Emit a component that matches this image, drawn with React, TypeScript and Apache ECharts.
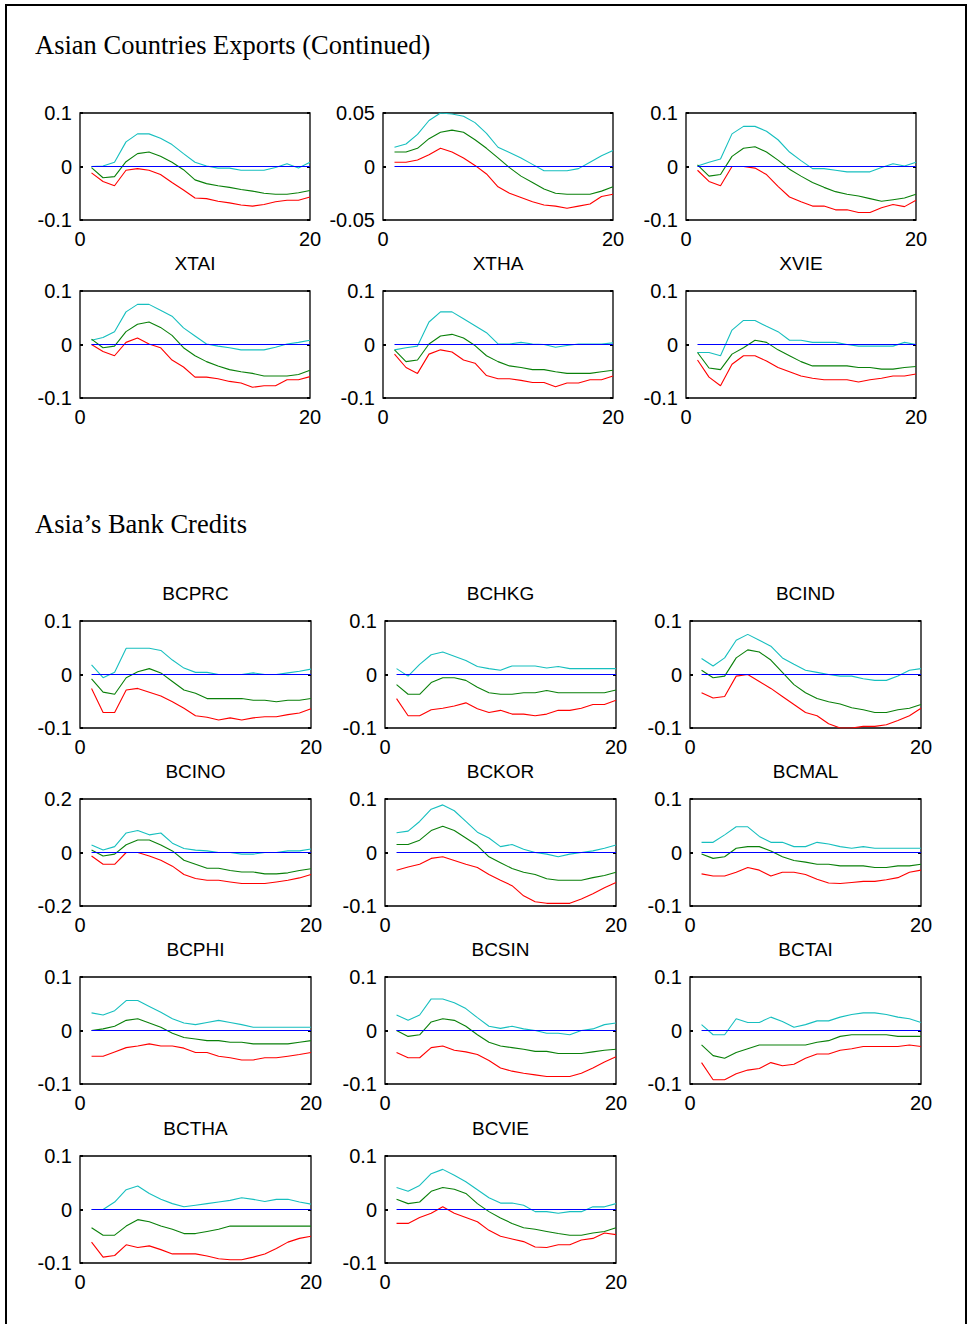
import React, { useEffect, useRef } from 'react';
import * as echarts from 'echarts';

// Forecast horizon (periods 1..20) shared by every panel
const PERIODS = [1, 2, 3, 4, 5, 6, 7, 8, 9, 10, 11, 12, 13, 14, 15, 16, 17, 18, 19, 20];
const X_TICKS = [0, 20];

// ---- Asian countries exports (continued) ----
const EXA_UP = [0, 0.001, 0.008, 0.046, 0.061, 0.061, 0.053, 0.041, 0.024, 0.008, 0.001, -0.003, -0.003, -0.007, -0.007, -0.007, -0.002, 0.005, -0.003, 0.008];
const EXA_MID = [-0.002, -0.021, -0.019, 0.009, 0.024, 0.027, 0.019, 0.008, -0.006, -0.025, -0.032, -0.036, -0.039, -0.043, -0.046, -0.05, -0.052, -0.052, -0.049, -0.045];
const EXA_LO = [-0.012, -0.028, -0.036, -0.007, -0.004, -0.007, -0.015, -0.03, -0.044, -0.059, -0.06, -0.065, -0.068, -0.072, -0.074, -0.071, -0.066, -0.063, -0.063, -0.057];

const EXB_UP = [0.018, 0.021, 0.03, 0.043, 0.05, 0.049, 0.047, 0.041, 0.031, 0.018, 0.013, 0.008, 0.002, -0.004, -0.004, -0.004, -0.002, 0.004, 0.01, 0.015];
const EXB_MID = [0.0135, 0.0135, 0.017, 0.026, 0.032, 0.034, 0.032, 0.025, 0.017, 0.008, -0.001, -0.009, -0.015, -0.021, -0.025, -0.026, -0.026, -0.026, -0.023, -0.019];
const EXB_LO = [0.004, 0.004, 0.006, 0.011, 0.017, 0.0135, 0.008, 0.001, -0.007, -0.019, -0.025, -0.029, -0.033, -0.036, -0.037, -0.039, -0.037, -0.035, -0.028, -0.026];

const EXC_UP = [0.001, 0.008, 0.014, 0.061, 0.075, 0.075, 0.066, 0.05, 0.027, 0.011, -0.004, -0.004, -0.007, -0.01, -0.01, -0.01, -0.002, 0.005, 0.001, 0.008];
const EXC_MID = [0.003, -0.018, -0.015, 0.019, 0.034, 0.037, 0.027, 0.012, -0.005, -0.018, -0.03, -0.039, -0.047, -0.052, -0.055, -0.06, -0.065, -0.062, -0.059, -0.052];
const EXC_LO = [-0.007, -0.028, -0.036, 0, 0, -0.003, -0.015, -0.037, -0.057, -0.066, -0.074, -0.074, -0.081, -0.081, -0.086, -0.086, -0.077, -0.071, -0.075, -0.063];

const XTAI_UP = [0.008, 0.013, 0.024, 0.061, 0.075, 0.075, 0.064, 0.053, 0.031, 0.016, 0.001, -0.003, -0.006, -0.01, -0.01, -0.01, -0.005, 0.001, 0.004, 0.008];
const XTAI_MID = [0.01, -0.006, -0.003, 0.024, 0.038, 0.042, 0.032, 0.017, -0.006, -0.021, -0.032, -0.04, -0.047, -0.051, -0.054, -0.059, -0.059, -0.059, -0.056, -0.048];
const XTAI_LO = [0, -0.013, -0.021, 0.004, 0.012, 0.001, -0.006, -0.029, -0.042, -0.061, -0.061, -0.064, -0.069, -0.072, -0.08, -0.077, -0.077, -0.066, -0.066, -0.06];

const XTHA_UP = [-0.01, -0.006, -0.003, 0.042, 0.061, 0.061, 0.048, 0.035, 0.022, 0.001, 0.001, 0.004, 0.001, 0, -0.005, -0.002, 0.001, 0.001, 0.001, 0.003];
const XTHA_MID = [-0.01, -0.032, -0.029, 0.001, 0.016, 0.019, 0.012, -0.002, -0.021, -0.032, -0.04, -0.043, -0.047, -0.047, -0.051, -0.054, -0.054, -0.054, -0.051, -0.048];
const XTHA_LO = [-0.018, -0.043, -0.054, -0.018, -0.01, -0.014, -0.029, -0.035, -0.058, -0.064, -0.064, -0.067, -0.071, -0.071, -0.079, -0.072, -0.072, -0.066, -0.066, -0.059];

const XVIE_UP = [-0.015, -0.015, -0.021, 0.027, 0.045, 0.045, 0.034, 0.024, 0.008, 0.008, 0.004, 0.004, 0.004, 0, -0.003, -0.003, -0.003, -0.003, 0.004, 0];
const XVIE_MID = [-0.015, -0.044, -0.047, -0.018, -0.006, 0.008, 0.004, -0.01, -0.021, -0.032, -0.04, -0.04, -0.04, -0.04, -0.043, -0.043, -0.046, -0.046, -0.043, -0.041];
const XVIE_LO = [-0.029, -0.061, -0.077, -0.037, -0.021, -0.021, -0.031, -0.043, -0.051, -0.059, -0.063, -0.066, -0.066, -0.066, -0.07, -0.066, -0.063, -0.059, -0.059, -0.055];

// ---- Asia's bank credits ----
const BCPRC_UP = [0.018, -0.006, 0.004, 0.049, 0.049, 0.049, 0.045, 0.027, 0.012, 0.004, 0.004, 0, 0, 0, 0.003, 0, 0, 0.003, 0.006, 0.01];
const BCPRC_MID = [-0.008, -0.033, -0.037, -0.006, 0.005, 0.011, 0.003, -0.013, -0.029, -0.035, -0.045, -0.045, -0.045, -0.045, -0.048, -0.048, -0.051, -0.048, -0.048, -0.045];
const BCPRC_LO = [-0.026, -0.071, -0.071, -0.029, -0.026, -0.033, -0.04, -0.051, -0.063, -0.077, -0.08, -0.085, -0.081, -0.085, -0.081, -0.079, -0.079, -0.075, -0.072, -0.064];

const BCHKG_UP = [0.011, -0.003, 0.019, 0.037, 0.042, 0.034, 0.026, 0.015, 0.011, 0.008, 0.016, 0.016, 0.016, 0.012, 0.015, 0.011, 0.011, 0.011, 0.011, 0.011];
const BCHKG_MID = [-0.019, -0.037, -0.037, -0.015, -0.006, -0.006, -0.011, -0.024, -0.034, -0.037, -0.037, -0.034, -0.034, -0.03, -0.034, -0.034, -0.034, -0.034, -0.034, -0.029];
const BCHKG_LO = [-0.045, -0.077, -0.077, -0.066, -0.063, -0.059, -0.053, -0.064, -0.071, -0.067, -0.074, -0.074, -0.077, -0.074, -0.067, -0.067, -0.063, -0.056, -0.056, -0.048];

const BCIND_UP = [0.03, 0.016, 0.031, 0.064, 0.075, 0.064, 0.053, 0.031, 0.019, 0.008, 0.004, 0, -0.003, -0.003, -0.008, -0.011, -0.011, -0.003, 0.008, 0.011];
const BCIND_MID = [0.008, -0.006, -0.003, 0.031, 0.046, 0.042, 0.027, 0.004, -0.019, -0.034, -0.045, -0.051, -0.055, -0.062, -0.066, -0.071, -0.071, -0.066, -0.063, -0.056];
const BCIND_LO = [-0.034, -0.044, -0.041, -0.003, 0, -0.013, -0.026, -0.041, -0.056, -0.071, -0.077, -0.092, -0.1, -0.1, -0.097, -0.097, -0.094, -0.086, -0.077, -0.063];

const BCINO_UP = [0.028, 0.009, 0.022, 0.073, 0.082, 0.066, 0.073, 0.035, 0.015, 0.009, 0.006, 0, 0, -0.006, -0.006, 0, 0, 0.006, 0.006, 0.013];
const BCINO_MID = [0.009, -0.013, -0.006, 0.029, 0.047, 0.047, 0.028, 0.006, -0.029, -0.044, -0.059, -0.059, -0.067, -0.073, -0.073, -0.08, -0.08, -0.076, -0.067, -0.061];
const BCINO_LO = [-0.013, -0.044, -0.044, 0, 0, -0.013, -0.029, -0.051, -0.082, -0.097, -0.104, -0.104, -0.11, -0.116, -0.116, -0.116, -0.11, -0.104, -0.095, -0.082];

const BCKOR_UP = [0.037, 0.04, 0.058, 0.081, 0.089, 0.078, 0.058, 0.038, 0.027, 0.011, 0.015, 0.006, 0, -0.003, -0.008, -0.003, 0, 0.003, 0.008, 0.014];
const BCKOR_MID = [0.015, 0.015, 0.023, 0.041, 0.049, 0.041, 0.027, 0.013, -0.008, -0.019, -0.03, -0.037, -0.041, -0.049, -0.052, -0.052, -0.052, -0.047, -0.043, -0.037];
const BCKOR_LO = [-0.033, -0.027, -0.022, -0.011, -0.008, -0.015, -0.022, -0.028, -0.041, -0.052, -0.062, -0.081, -0.092, -0.095, -0.095, -0.095, -0.087, -0.077, -0.066, -0.056];

const BCMAL_UP = [0.019, 0.019, 0.033, 0.048, 0.048, 0.03, 0.019, 0.019, 0.011, 0.011, 0.019, 0.016, 0.011, 0.008, 0.011, 0.008, 0.008, 0.008, 0.008, 0.008];
const BCMAL_MID = [-0.003, -0.011, -0.008, 0.008, 0.011, 0.011, 0.003, -0.008, -0.015, -0.018, -0.022, -0.022, -0.025, -0.025, -0.025, -0.028, -0.028, -0.025, -0.025, -0.022];
const BCMAL_LO = [-0.04, -0.044, -0.044, -0.037, -0.028, -0.033, -0.044, -0.037, -0.037, -0.041, -0.05, -0.057, -0.058, -0.056, -0.054, -0.054, -0.051, -0.047, -0.037, -0.033];

const BCPHI_UP = [0.033, 0.029, 0.037, 0.056, 0.056, 0.045, 0.034, 0.022, 0.014, 0.011, 0.015, 0.019, 0.015, 0.011, 0.006, 0.006, 0.006, 0.006, 0.006, 0.006];
const BCPHI_MID = [0, 0.003, 0.008, 0.019, 0.022, 0.014, 0.006, -0.005, -0.013, -0.016, -0.019, -0.019, -0.022, -0.022, -0.025, -0.025, -0.025, -0.025, -0.022, -0.019];
const BCPHI_LO = [-0.048, -0.048, -0.04, -0.032, -0.029, -0.025, -0.029, -0.029, -0.033, -0.041, -0.041, -0.048, -0.051, -0.055, -0.055, -0.051, -0.051, -0.048, -0.045, -0.041];

const BCSIN_UP = [0.029, 0.019, 0.029, 0.059, 0.059, 0.052, 0.041, 0.024, 0.008, 0.004, 0.008, 0.003, 0, -0.005, -0.005, -0.008, 0, 0.003, 0.011, 0.014];
const BCSIN_MID = [0, -0.011, -0.008, 0.016, 0.022, 0.019, 0.008, -0.008, -0.022, -0.029, -0.032, -0.035, -0.039, -0.039, -0.043, -0.043, -0.043, -0.04, -0.037, -0.035];
const BCSIN_LO = [-0.041, -0.051, -0.051, -0.032, -0.029, -0.037, -0.04, -0.045, -0.056, -0.07, -0.076, -0.08, -0.083, -0.086, -0.086, -0.086, -0.08, -0.07, -0.059, -0.049];

const BCTAI_UP = [0.011, -0.008, -0.008, 0.022, 0.015, 0.015, 0.025, 0.017, 0.006, 0.011, 0.018, 0.018, 0.025, 0.03, 0.033, 0.033, 0.03, 0.025, 0.022, 0.015];
const BCTAI_MID = [-0.027, -0.047, -0.052, -0.041, -0.034, -0.027, -0.027, -0.027, -0.027, -0.027, -0.022, -0.019, -0.011, -0.008, -0.008, -0.008, -0.008, -0.011, -0.011, -0.011];
const BCTAI_LO = [-0.06, -0.092, -0.092, -0.081, -0.074, -0.071, -0.06, -0.066, -0.063, -0.052, -0.044, -0.044, -0.037, -0.034, -0.03, -0.03, -0.03, -0.03, -0.027, -0.03];

const BCTHA_UP = [0, 0, 0.014, 0.037, 0.044, 0.03, 0.019, 0.011, 0.005, 0.008, 0.011, 0.014, 0.017, 0.022, 0.019, 0.015, 0.019, 0.019, 0.014, 0.01];
const BCTHA_MID = [-0.034, -0.048, -0.048, -0.031, -0.019, -0.023, -0.031, -0.037, -0.045, -0.045, -0.041, -0.037, -0.031, -0.031, -0.031, -0.031, -0.031, -0.031, -0.031, -0.031];
const BCTHA_LO = [-0.061, -0.089, -0.086, -0.066, -0.071, -0.068, -0.075, -0.083, -0.083, -0.083, -0.087, -0.092, -0.094, -0.094, -0.089, -0.083, -0.073, -0.061, -0.054, -0.05];

const BCVIE_UP = [0.041, 0.034, 0.045, 0.067, 0.075, 0.064, 0.052, 0.037, 0.022, 0.012, 0.012, 0.008, -0.004, -0.004, -0.007, -0.004, -0.004, 0.005, 0.005, 0.011];
const BCVIE_MID = [0.019, 0.011, 0.014, 0.034, 0.041, 0.038, 0.03, 0.011, -0.004, -0.016, -0.026, -0.034, -0.037, -0.041, -0.045, -0.048, -0.048, -0.044, -0.041, -0.034];
const BCVIE_LO = [-0.026, -0.026, -0.015, -0.007, 0.005, -0.007, -0.015, -0.023, -0.039, -0.05, -0.055, -0.06, -0.07, -0.071, -0.066, -0.066, -0.057, -0.054, -0.044, -0.047];

// Panel titles and symmetric y-limits
const EXPORT_TITLES = ['', '', '', 'XTAI', 'XTHA', 'XVIE'];
const EXPORT_LIMITS = [0.1, 0.05, 0.1, 0.1, 0.1, 0.1];
const CREDIT_TITLES = ['BCPRC', 'BCHKG', 'BCIND', 'BCINO', 'BCKOR', 'BCMAL', 'BCPHI', 'BCSIN', 'BCTAI', 'BCTHA', 'BCVIE'];
const CREDIT_LIMITS = [0.1, 0.1, 0.1, 0.2, 0.1, 0.1, 0.1, 0.1, 0.1, 0.1, 0.1];

const EXPORT_BANDS = [
  [EXA_UP, EXA_MID, EXA_LO],
  [EXB_UP, EXB_MID, EXB_LO],
  [EXC_UP, EXC_MID, EXC_LO],
  [XTAI_UP, XTAI_MID, XTAI_LO],
  [XTHA_UP, XTHA_MID, XTHA_LO],
  [XVIE_UP, XVIE_MID, XVIE_LO],
];
const CREDIT_BANDS = [
  [BCPRC_UP, BCPRC_MID, BCPRC_LO],
  [BCHKG_UP, BCHKG_MID, BCHKG_LO],
  [BCIND_UP, BCIND_MID, BCIND_LO],
  [BCINO_UP, BCINO_MID, BCINO_LO],
  [BCKOR_UP, BCKOR_MID, BCKOR_LO],
  [BCMAL_UP, BCMAL_MID, BCMAL_LO],
  [BCPHI_UP, BCPHI_MID, BCPHI_LO],
  [BCSIN_UP, BCSIN_MID, BCSIN_LO],
  [BCTAI_UP, BCTAI_MID, BCTAI_LO],
  [BCTHA_UP, BCTHA_MID, BCTHA_LO],
  [BCVIE_UP, BCVIE_MID, BCVIE_LO],
];

const LINE_COLORS = ['#17bfbf', '#0a800a', '#ff0000'];
const ZERO_COLOR = '#0000ff';
const SANS = '"Liberation Sans", Arial, sans-serif';
const SERIF = '"Liberation Serif", "Times New Roman", serif';

type Box = { left: number; top: number; width: number; height: number };

// Page layout of the axes boxes
const EXPORT_COLS = [80, 383, 686];
const EXPORT_ROWS = [113, 291];
const CREDIT_COLS = [80, 385, 690];
const CREDIT_ROWS = [621, 799, 977, 1156];
const BOX_W = 230;
const BOX_H = 107;

function buildOption() {
  const boxes: Box[] = [];
  const titles: string[] = [];
  const limits: number[] = [];
  const bands: number[][][] = [];

  EXPORT_TITLES.forEach((t, i) => {
    boxes.push({ left: EXPORT_COLS[i % 3], top: EXPORT_ROWS[Math.floor(i / 3)], width: BOX_W, height: BOX_H });
    titles.push(t);
    limits.push(EXPORT_LIMITS[i]);
    bands.push(EXPORT_BANDS[i]);
  });
  CREDIT_TITLES.forEach((t, i) => {
    boxes.push({ left: CREDIT_COLS[i % 3], top: CREDIT_ROWS[Math.floor(i / 3)], width: BOX_W + 1, height: BOX_H });
    titles.push(t);
    limits.push(CREDIT_LIMITS[i]);
    bands.push(CREDIT_BANDS[i]);
  });

  const grid: any[] = [];
  const xAxis: any[] = [];
  const yAxis: any[] = [];
  const series: any[] = [];
  const graphic: any[] = [];

  const tickStyle = { show: true, inside: true, length: 3, lineStyle: { color: '#000', width: 2 } };

  boxes.forEach((b, i) => {
    grid.push({
      left: b.left,
      top: b.top,
      width: b.width,
      height: b.height,
      show: true,
      borderColor: '#000',
      borderWidth: 1.3,
      backgroundColor: 'transparent',
      containLabel: false,
      outerBoundsMode: 'none',
    });
    xAxis.push({
      gridIndex: i,
      type: 'value',
      min: X_TICKS[0],
      max: X_TICKS[1],
      interval: X_TICKS[1] - X_TICKS[0],
      axisLine: { show: false },
      axisTick: { show: false },
      splitLine: { show: false },
      axisLabel: { color: '#000', fontSize: 20, fontFamily: SANS, margin: 9 },
    });
    const lim = limits[i];
    yAxis.push({
      gridIndex: i,
      type: 'value',
      position: 'left',
      min: -lim,
      max: lim,
      interval: lim,
      axisLine: { show: false },
      axisTick: tickStyle,
      splitLine: { show: false },
      axisLabel: { color: '#000', fontSize: 20, fontFamily: SANS, margin: 8 },
    });
    yAxis.push({
      gridIndex: i,
      type: 'value',
      position: 'right',
      min: -lim,
      max: lim,
      interval: lim,
      axisLine: { show: false },
      axisTick: tickStyle,
      splitLine: { show: false },
      axisLabel: { show: false },
    });

    bands[i].forEach((vals, k) => {
      series.push({
        type: 'line',
        xAxisIndex: i,
        yAxisIndex: i * 2,
        data: PERIODS.map((p, j) => [p, vals[j]]),
        showSymbol: false,
        symbol: 'none',
        silent: true,
        lineStyle: { color: LINE_COLORS[k], width: 1.1 },
        z: 2,
      });
    });
    // zero reference line across the forecast horizon
    series.push({
      type: 'line',
      xAxisIndex: i,
      yAxisIndex: i * 2,
      data: [],
      silent: true,
      z: 3,
      markLine: {
        silent: true,
        symbol: 'none',
        label: { show: false },
        lineStyle: { color: ZERO_COLOR, width: 1.2, type: 'solid', opacity: 1 },
        emphasis: { disabled: true },
        data: [[{ coord: [PERIODS[0], 0] }, { coord: [PERIODS[PERIODS.length - 1], 0] }]],
      },
    });

    if (titles[i]) {
      graphic.push({
        type: 'text',
        x: b.left + b.width / 2,
        y: b.top - 28,
        style: {
          text: titles[i],
          fill: '#000',
          font: `19px ${SANS}`,
          align: 'center',
          verticalAlign: 'middle',
        },
      });
    }
  });

  graphic.push(
    {
      type: 'text',
      x: 35,
      y: 45,
      style: { text: 'Asian Countries Exports (Continued)', fill: '#000', font: `26.5px ${SERIF}`, align: 'left', verticalAlign: 'middle' },
    },
    {
      type: 'text',
      x: 35,
      y: 524,
      style: { text: 'Asia\u2019s Bank Credits', fill: '#000', font: `26.5px ${SERIF}`, align: 'left', verticalAlign: 'middle' },
    },
    {
      type: 'rect',
      shape: { x: 6, y: 5, width: 960, height: 1360 },
      style: { fill: 'none', stroke: '#000', lineWidth: 2 },
    }
  );

  return { animation: false, backgroundColor: '#fff', grid, xAxis, yAxis, series, graphic };
}

export default function App() {
  const ref = useRef<HTMLDivElement>(null);
  useEffect(() => {
    document.body.style.margin = '0';
    if (!ref.current) return;
    const chart = echarts.init(ref.current, undefined, { renderer: 'svg' });
    chart.setOption(buildOption() as any);
    return () => chart.dispose();
  }, []);
  return <div ref={ref} style={{ width: 969, height: 1324 }} />;
}
